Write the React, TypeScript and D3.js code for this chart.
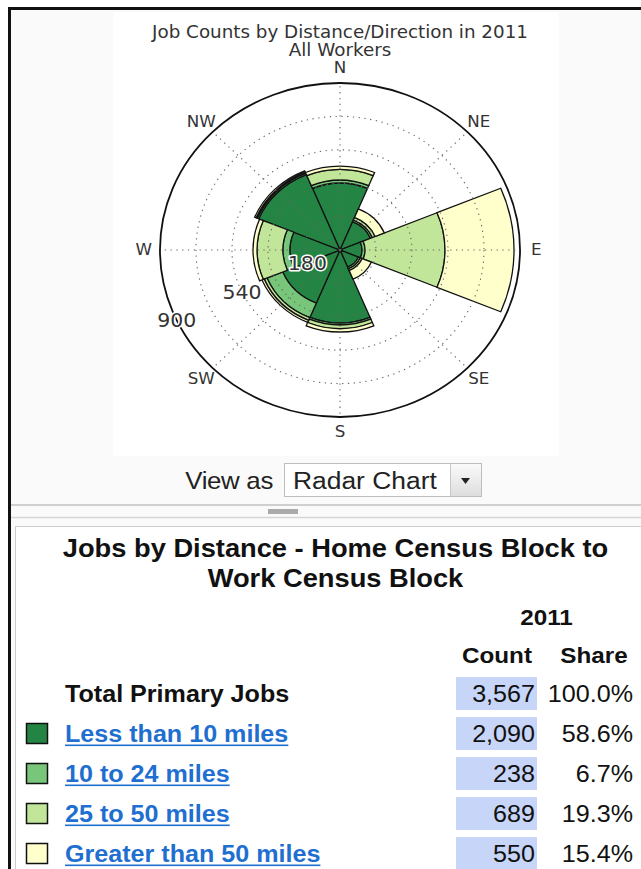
import React, { useRef, useEffect } from 'react';
import * as d3 from 'd3';

// compass wedges, clockwise from north
const directions = ['N', 'NE', 'E', 'SE', 'S', 'SW', 'W', 'NW'];
const lessThan10 = [360, 165, 110, 100, 393, 310, 250, 440];
const from10To24 = [16, 10, 15, 10, 10, 85, 35, 8];
const from25To50 = [58, 15, 400, 10, 20, 15, 130, 6];
const over50 = [18, 50, 345, 50, 19, 12, 20, 8];

const seriesNames = ['Less than 10 miles', '10 to 24 miles', '25 to 50 miles', 'Greater than 50 miles'];
const seriesColors = ['#238443', '#78c679', '#c2e699', '#ffffcc'];

const ringTicks = [180, 360, 540, 720];
const ringLabels = [180, 540, 900];
const radialMax = 900;

const rowLabels = ['Total Primary Jobs', ...seriesNames];
const jobCounts = ['3,567', '2,090', '238', '689', '550'];
const jobShares = ['100.0%', '58.6%', '6.7%', '19.3%', '15.4%'];

const W = 641;
const H = 869;
const SX = 1.078; // the whole screenshot is a bit stretched sideways
const SANS = '"Liberation Sans", Arial, sans-serif';
const DEJAVU = '"DejaVu Sans", sans-serif';

const App = () => {
  const svgRef = useRef<SVGSVGElement>(null);

  useEffect(() => {
    if (!svgRef.current) return;
    const svg = d3.select(svgRef.current);
    svg.selectAll('*').remove();

    // page + panel frame
    svg.append('rect').attr('width', W).attr('height', H).attr('fill', '#fff');
    svg.append('rect').attr('x', 10).attr('y', 9).attr('width', W).attr('height', H).attr('fill', '#fafafa');
    svg.append('rect').attr('x', 113).attr('y', 12).attr('width', 446).attr('height', 444).attr('fill', '#fff');
    svg.append('rect').attr('x', 8).attr('y', 7).attr('width', W).attr('height', 3).attr('fill', '#111');
    svg.append('rect').attr('x', 8).attr('y', 7).attr('width', 3).attr('height', H).attr('fill', '#111');

    // ---------- radar chart ----------
    const R = 167;
    const chart = svg.append('g').attr('transform', `translate(340,250) scale(${SX},1)`);

    const r = d3.scaleLinear().domain([0, radialMax]).range([0, R]);
    const angle = d3.scaleLinear().domain([0, directions.length]).range([0, 2 * Math.PI]);
    const half = Math.PI / directions.length;

    const rows = directions.map((dir, i) => ({
      dir,
      a: lessThan10[i],
      b: from10To24[i],
      c: from25To50[i],
      d: over50[i],
    }));
    const keys = ['a', 'b', 'c', 'd'];
    const stacked = d3.stack<any>().keys(keys)(rows);

    const arc = d3.arc<any>()
      .innerRadius(d => r(d[0]))
      .outerRadius(d => r(d[1]))
      .startAngle(d => angle(d.i) - half)
      .endAngle(d => angle(d.i) + half);

    stacked.forEach((layer, k) => {
      chart.append('g')
        .selectAll('path')
        .data(layer.map((d: any, i: number) => Object.assign([d[0], d[1]], { i })))
        .enter()
        .append('path')
        .attr('d', arc as any)
        .attr('fill', seriesColors[k])
        .attr('stroke', '#111')
        .attr('stroke-width', 1.3)
        .attr('vector-effect', 'non-scaling-stroke');
    });

    // dotted grid, drawn over the wedges
    const grid = chart.append('g')
      .attr('fill', 'none')
      .attr('stroke', '#666')
      .attr('stroke-width', 1.1)
      .attr('stroke-dasharray', '1.3 4.5');
    grid.selectAll('circle')
      .data(ringTicks)
      .enter()
      .append('circle')
      .attr('r', d => r(d))
      .attr('vector-effect', 'non-scaling-stroke');
    grid.selectAll('line')
      .data(directions.map((_, i) => i))
      .enter()
      .append('line')
      .attr('x1', 0)
      .attr('y1', 0)
      .attr('x2', i => Math.sin(angle(i)) * R)
      .attr('y2', i => -Math.cos(angle(i)) * R)
      .attr('vector-effect', 'non-scaling-stroke');

    chart.append('circle')
      .attr('r', R)
      .attr('fill', 'none')
      .attr('stroke', '#111')
      .attr('stroke-width', 1.8)
      .attr('vector-effect', 'non-scaling-stroke');

    // compass labels
    chart.selectAll('.dir')
      .data(directions)
      .enter()
      .append('text')
      .attr('class', 'dir')
      .attr('x', (_, i) => Math.sin(angle(i)) * (R + 15))
      .attr('y', (_, i) => -Math.cos(angle(i)) * (R + 15))
      .attr('text-anchor', 'middle')
      .attr('dominant-baseline', 'central')
      .attr('font-family', DEJAVU)
      .attr('font-size', 15.5)
      .attr('fill', '#333')
      .text(d => d);

    // radial labels
    const labAng = (25 * Math.PI) / 180;
    chart.selectAll('.rlab')
      .data(ringLabels)
      .enter()
      .append('text')
      .attr('class', 'rlab')
      .attr('x', d => -Math.cos(labAng) * r(d))
      .attr('y', d => Math.sin(labAng) * r(d))
      .attr('text-anchor', 'middle')
      .attr('dominant-baseline', 'central')
      .attr('font-family', DEJAVU)
      .attr('font-size', 19)
      .attr('fill', '#333')
      .attr('stroke', '#fff')
      .attr('stroke-width', 3)
      .attr('paint-order', 'stroke')
      .attr('stroke-linejoin', 'round')
      .text(d => d);

    // chart title
    chart.append('text')
      .attr('y', -212)
      .attr('text-anchor', 'middle')
      .attr('font-family', DEJAVU)
      .attr('font-size', 17)
      .attr('fill', '#333')
      .text('Job Counts by Distance/Direction in 2011');
    chart.append('text')
      .attr('y', -194)
      .attr('text-anchor', 'middle')
      .attr('font-family', DEJAVU)
      .attr('font-size', 17)
      .attr('fill', '#333')
      .text('All Workers');

    // ---------- "View as" control ----------
    const grad = svg.append('defs').append('linearGradient')
      .attr('id', 'btn').attr('x1', 0).attr('y1', 0).attr('x2', 0).attr('y2', 1);
    grad.append('stop').attr('offset', '0%').attr('stop-color', '#fafafa');
    grad.append('stop').attr('offset', '100%').attr('stop-color', '#dedede');

    svg.append('rect').attr('x', 284.5).attr('y', 463.5).attr('width', 197).attr('height', 33)
      .attr('fill', '#fff').attr('stroke', '#bdbdbd');
    svg.append('rect').attr('x', 450.5).attr('y', 464).attr('width', 30.5).attr('height', 32)
      .attr('fill', 'url(#btn)');
    svg.append('line').attr('x1', 450.5).attr('x2', 450.5).attr('y1', 464).attr('y2', 496)
      .attr('stroke', '#c8c8c8');
    svg.append('path').attr('d', 'M461,478 L470,478 L465.5,484 Z').attr('fill', '#222');

    const ctl = svg.append('g').attr('transform', `scale(${SX},1)`);
    ctl.append('text')
      .attr('x', 273 / SX)
      .attr('y', 489)
      .attr('text-anchor', 'end')
      .attr('font-family', SANS)
      .attr('font-size', 24)
      .attr('letter-spacing', -0.3)
      .attr('fill', '#222')
      .text('View as');
    ctl.append('text')
      .attr('x', 293 / SX)
      .attr('y', 489)
      .attr('font-family', SANS)
      .attr('font-size', 24.5)
      .attr('fill', '#222')
      .text('Radar Chart');

    // splitter
    svg.append('line').attr('x1', 11).attr('x2', W).attr('y1', 505).attr('y2', 505)
      .attr('stroke', '#cfcfcf').attr('stroke-width', 2);
    svg.append('line').attr('x1', 11).attr('x2', W).attr('y1', 517.5).attr('y2', 517.5)
      .attr('stroke', '#d6d6d6').attr('stroke-width', 1.5);
    svg.append('rect').attr('x', 268).attr('y', 509).attr('width', 30).attr('height', 5).attr('fill', '#aaa');

    // ---------- table ----------
    svg.append('rect').attr('x', 15.5).attr('y', 526.5).attr('width', 700).attr('height', 400)
      .attr('fill', '#fff').attr('stroke', '#ccc');

    const rowY = d3.scaleLinear().domain([0, rowLabels.length - 1]).range([694, 854]);
    const linkColor = '#1f6fd1';

    svg.append('g')
      .selectAll('rect')
      .data(jobCounts)
      .enter()
      .append('rect')
      .attr('x', 456)
      .attr('y', (_, i) => rowY(i) - 17)
      .attr('width', 81)
      .attr('height', 33)
      .attr('fill', '#c7d5f8');

    svg.append('g')
      .selectAll('rect')
      .data(seriesColors)
      .enter()
      .append('rect')
      .attr('x', 26.5)
      .attr('y', (_, i) => rowY(i + 1) - 10.5)
      .attr('width', 21)
      .attr('height', 20)
      .attr('fill', d => d)
      .attr('stroke', '#111')
      .attr('stroke-width', 1.5);

    const tbl = svg.append('g').attr('transform', `scale(${SX},1)`);
    const txt = (x: number, y: number, s: string, anchor: string, bold: boolean, size = 23, color = '#111') =>
      tbl.append('text')
        .attr('x', x / SX)
        .attr('y', y)
        .attr('text-anchor', anchor)
        .attr('font-family', SANS)
        .attr('font-size', size)
        .attr('font-weight', bold ? 'bold' : 'normal')
        .attr('fill', color)
        .text(s);

    txt(335.5, 557.5, 'Jobs by Distance - Home Census Block to', 'middle', true, 25.3);
    txt(335.5, 587.5, 'Work Census Block', 'middle', true, 25.3);
    txt(546.5, 625, '2011', 'middle', true, 22.5);
    txt(497, 663, 'Count', 'middle', true, 22.5);
    txt(594, 663, 'Share', 'middle', true, 22.5);

    rowLabels.forEach((label, i) => {
      const y = rowY(i) + 8;
      const isLink = i > 0;
      const t = txt(65, y, label, 'start', true, 23.3, isLink ? linkColor : '#111');
      if (isLink) {
        const w = (t.node() as SVGTextElement).getComputedTextLength();
        tbl.append('rect')
          .attr('x', 65 / SX)
          .attr('y', y + 2.5)
          .attr('width', w)
          .attr('height', 1.6)
          .attr('fill', linkColor);
      }
      txt(535, y, jobCounts[i], 'end', false, 23.3);
      txt(633, y, jobShares[i], 'end', false, 23.3);
    });
  }, []);

  return (
    <svg
      ref={svgRef}
      width={W}
      height={H}
      style={{ position: 'absolute', left: 0, top: 0, display: 'block' }}
    />
  );
};

export default App;
